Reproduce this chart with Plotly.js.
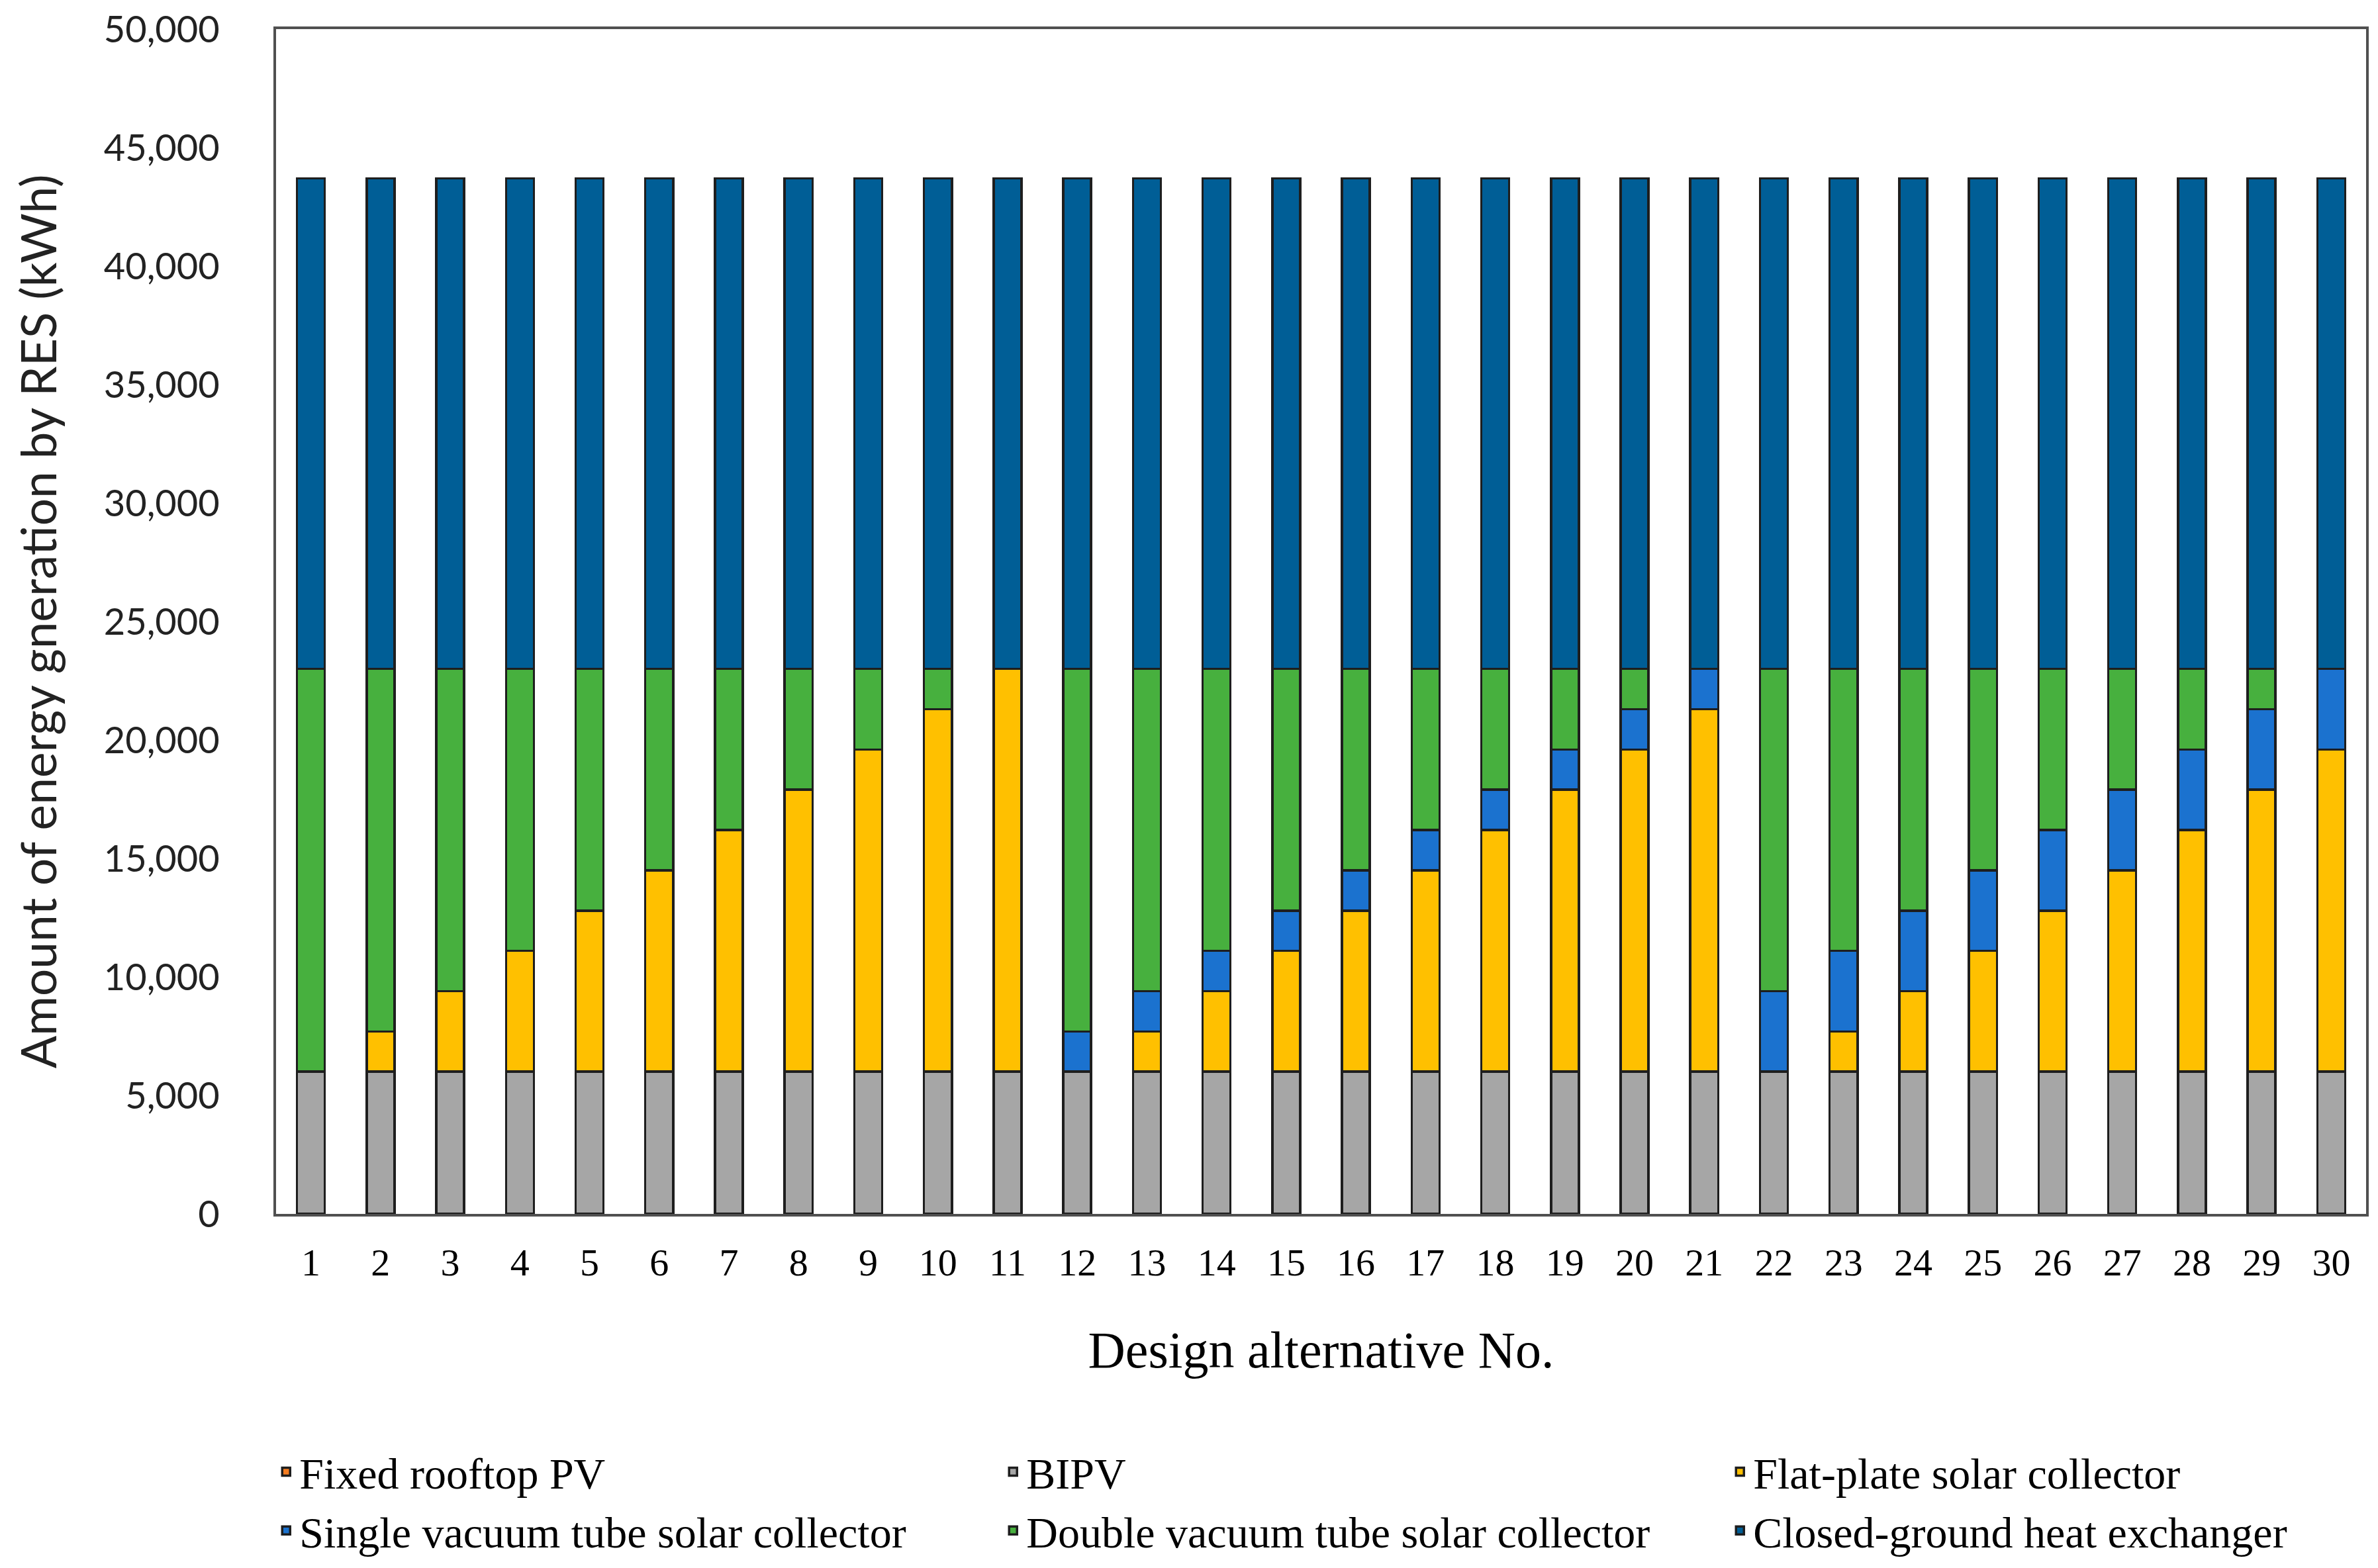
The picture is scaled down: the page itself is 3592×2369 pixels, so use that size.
<!DOCTYPE html>
<html>
<head>
<meta charset="utf-8">
<script src="https://cdn.plot.ly/plotly-3.0.1.min.js"></script>
<style>
html,body{margin:0;padding:0;background:#fff;}
#chart{width:3592px;height:2369px;}
</style>
</head>
<body>
<div id="chart"></div>
<script>
// Categories: design alternative numbers
const alternatives = ['1','2','3','4','5','6','7','8','9','10','11','12','13','14','15','16','17','18','19','20','21','22','23','24','25','26','27','28','29','30'];

// Series values (kWh)
const fixedRooftopPV = [0,0,0,0,0,0,0,0,0,0,0,0,0,0,0,0,0,0,0,0,0,0,0,0,0,0,0,0,0,0];
const bipv = [6000,6000,6000,6000,6000,6000,6000,6000,6000,6000,6000,6000,6000,6000,6000,6000,6000,6000,6000,6000,6000,6000,6000,6000,6000,6000,6000,6000,6000,6000];
const flatPlate = [0,1700,3400,5100,6800,8500,10200,11900,13600,15300,17000,0,1700,3400,5100,6800,8500,10200,11900,13600,15300,0,1700,3400,5100,6800,8500,10200,11900,13600];
const singleVacuum = [0,0,0,0,0,0,0,0,0,0,0,1700,1700,1700,1700,1700,1700,1700,1700,1700,1700,3400,3400,3400,3400,3400,3400,3400,3400,3400];
const doubleVacuum = [17000,15300,13600,11900,10200,8500,6800,5100,3400,1700,0,15300,13600,11900,10200,8500,6800,5100,3400,1700,0,13600,11900,10200,8500,6800,5100,3400,1700,0];
const closedGround = [20700,20700,20700,20700,20700,20700,20700,20700,20700,20700,20700,20700,20700,20700,20700,20700,20700,20700,20700,20700,20700,20700,20700,20700,20700,20700,20700,20700,20700,20700];

// Y tick values
const yTicks = [0,5000,10000,15000,20000,25000,30000,35000,40000,45000,50000];

const seriesNames = ['Fixed rooftop PV','BIPV','Flat-plate solar collector','Single vacuum tube solar collector','Double vacuum tube solar collector','Closed-ground heat exchanger'];
const seriesValues = [fixedRooftopPV, bipv, flatPlate, singleVacuum, doubleVacuum, closedGround];
const seriesColors = ['#F47C20','#A6A6A6','#FFC000','#1B72CF','#47B03E','#005E96'];

const traces = seriesNames.map((name, i) => ({
  type: 'bar',
  name: name,
  x: alternatives,
  y: seriesValues[i],
  marker: {color: seriesColors[i], line: {color: '#1e1e1e', width: 3.5}},
  hoverinfo: 'x+y+name'
}));

const layout = {
  width: 3592,
  height: 2369,
  paper_bgcolor: '#ffffff',
  plot_bgcolor: '#ffffff',
  barmode: 'stack',
  bargap: 0.6,
  margin: {l: 417, r: 18, t: 44, b: 535, pad: 0, autoexpand: false},
  showlegend: true,
  xaxis: {
    type: 'category',
    showline: true, mirror: true, linecolor: '#505050', linewidth: 4,
    showgrid: false, zeroline: false,
    ticks: '',
    ticklabelstandoff: 19,
    tickfont: {family: 'Liberation Serif, Times New Roman, serif', size: 58, color: '#000'},
    title: {text: 'Design alternative No.', font: {family: 'Liberation Serif, Times New Roman, serif', size: 78, color: '#000'}, standoff: 74},
    automargin: false
  },
  yaxis: {
    range: [0, 50000],
    tickvals: yTicks,
    tickformat: ',d',
    showline: true, mirror: true, linecolor: '#505050', linewidth: 4,
    showgrid: false, zeroline: false,
    ticks: '',
    ticklabelstandoff: 70,
    tickfont: {family: 'Lato, Calibri, sans-serif', size: 56, color: '#222'},
    title: {text: 'Amount of energy gneration by RES (kWh)', font: {family: 'Lato, Calibri, sans-serif', size: 73, color: '#222'}, standoff: 48},
    automargin: false
  },
  legend: {
    orientation: 'h',
    x: -0.0015, xanchor: 'left',
    y: -0.19, yanchor: 'top',
    entrywidth: 1053,
    entrywidthmode: 'pixels',
    traceorder: 'normal',
    font: {family: 'Liberation Serif, Times New Roman, serif', size: 66, color: '#000'},
    bgcolor: 'rgba(0,0,0,0)'
  }
};

Plotly.newPlot('chart', traces, layout, {displayModeBar: false, staticPlot: true});
</script>
</body>
</html>
